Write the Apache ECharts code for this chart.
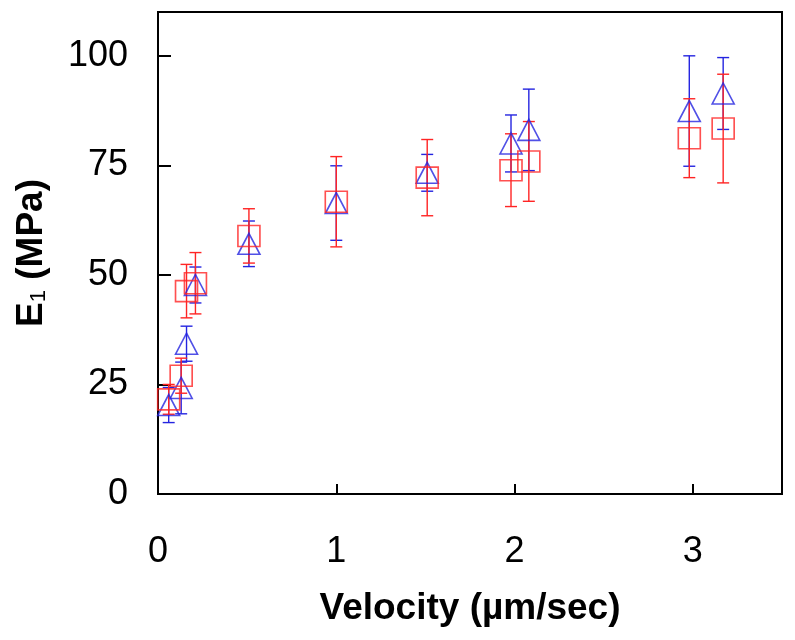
<!DOCTYPE html>
<html>
<head>
<meta charset="utf-8">
<script src="https://cdn.jsdelivr.net/npm/echarts@6/dist/echarts.min.js"></script>
<style>
html,body{margin:0;padding:0;background:#fff;}
#chart{width:795px;height:640px;}
</style>
</head>
<body>
<div id="chart"></div>
<script>
// Velocity (µm/sec) for each measurement
const velocity = [0.06, 0.13, 0.16, 0.21, 0.51, 1.0, 1.51, 1.98, 2.08, 2.98, 3.17];
// Red squares: E1 mean and error
const e1Square = [21.6, 27.0, 46.3, 48.1, 58.9, 66.7, 72.2, 73.9, 75.9, 81.2, 83.4];
const errSquare = [3.4, 4.0, 6.1, 7.0, 6.2, 10.3, 8.7, 8.3, 9.1, 9.0, 12.4];
// Blue triangles: E1 mean and error
const e1Triangle = [20.3, 24.2, 34.3, 47.7, 57.1, 66.4, 73.3, 80.0, 83.1, 87.4, 91.4];
const errTriangle = [4.0, 5.9, 4.0, 4.1, 5.2, 8.5, 4.2, 6.5, 9.3, 12.6, 8.2];
// Axis ticks
const xTicks = [0, 1, 2, 3];
const yTicks = [0, 25, 50, 75, 100];

const RED = '#ff2424';
const BLUE = '#2424e0';

function pts(ys) { return velocity.map((v, i) => [v, ys[i]]); }
function errData(ys, es) { return velocity.map((v, i) => [v, ys[i], es[i]]); }

function errRender(color, capHalf) {
  return function (params, api) {
    const x = api.value(0), y = api.value(1), e = api.value(2);
    const top = api.coord([x, y + e]);
    const bot = api.coord([x, y - e]);
    const st = { stroke: color, lineWidth: 1.4 };
    return {
      type: 'group',
      children: [
        { type: 'line', shape: { x1: top[0], y1: top[1], x2: bot[0], y2: bot[1] }, style: st },
        { type: 'line', shape: { x1: top[0] - capHalf, y1: top[1], x2: top[0] + capHalf, y2: top[1] }, style: st },
        { type: 'line', shape: { x1: bot[0] - capHalf, y1: bot[1], x2: bot[0] + capHalf, y2: bot[1] }, style: st }
      ]
    };
  };
}

const chart = echarts.init(document.getElementById('chart'), null, { renderer: 'canvas' });
const FONT = 'Liberation Sans, Arial, Helvetica, sans-serif';

chart.setOption({
  animation: false,
  backgroundColor: '#fff',
  grid: { left: 158, right: 13, top: 12, bottom: 146, show: true, borderColor: '#000', borderWidth: 2, backgroundColor: 'transparent' },
  xAxis: {
    type: 'value', min: 0, max: 3.5, interval: 1,
    name: 'Velocity (µm/sec)', nameLocation: 'middle', nameGap: 96,
    nameTextStyle: { fontFamily: FONT, fontSize: 37, fontWeight: 'bold', color: '#000' },
    axisLine: { show: true, lineStyle: { color: '#000', width: 2 } },
    axisTick: { show: true, inside: true, length: 10, lineStyle: { color: '#000', width: 2 }, customValues: xTicks },
    axisLabel: { fontFamily: FONT, fontSize: 36, color: '#000', margin: 40, customValues: xTicks },
    splitLine: { show: false }
  },
  yAxis: {
    type: 'value', min: 0, max: 110, interval: 25,
    name: 'E{sub|1} (MPa)', nameLocation: 'middle', nameGap: 108,
    nameTextStyle: { fontFamily: FONT, fontSize: 37, fontWeight: 'bold', color: '#000',
      rich: { sub: { fontFamily: FONT, fontSize: 22, fontWeight: 'normal', color: '#000', verticalAlign: 'bottom', padding: [14, 0, 0, 0] } } },
    axisLine: { show: true, lineStyle: { color: '#000', width: 2 } },
    axisTick: { show: true, inside: true, length: 13, lineStyle: { color: '#000', width: 2 }, customValues: yTicks },
    axisLabel: { fontFamily: FONT, fontSize: 36, color: '#000', margin: 30, customValues: yTicks },
    splitLine: { show: false }
  },
  series: [
    { type: 'custom', name: 'errTri', data: errData(e1Triangle, errTriangle), renderItem: errRender(BLUE, 6), encode: { x: 0, y: 1 }, z: 2, silent: true },
    { type: 'custom', name: 'errSq', data: errData(e1Square, errSquare), renderItem: errRender(RED, 6), encode: { x: 0, y: 1 }, z: 3, silent: true },
    { type: 'scatter', name: 'tri', data: pts(e1Triangle), symbol: 'triangle', symbolSize: [22, 21],
      itemStyle: { color: 'rgba(0,0,0,0)', borderColor: BLUE, borderWidth: 1.6 }, z: 4 },
    { type: 'scatter', name: 'sq', data: pts(e1Square), symbol: 'rect', symbolSize: [22, 21],
      itemStyle: { color: 'rgba(0,0,0,0)', borderColor: RED, borderWidth: 1.6 }, z: 5 }
  ]
});
</script>
</body>
</html>
